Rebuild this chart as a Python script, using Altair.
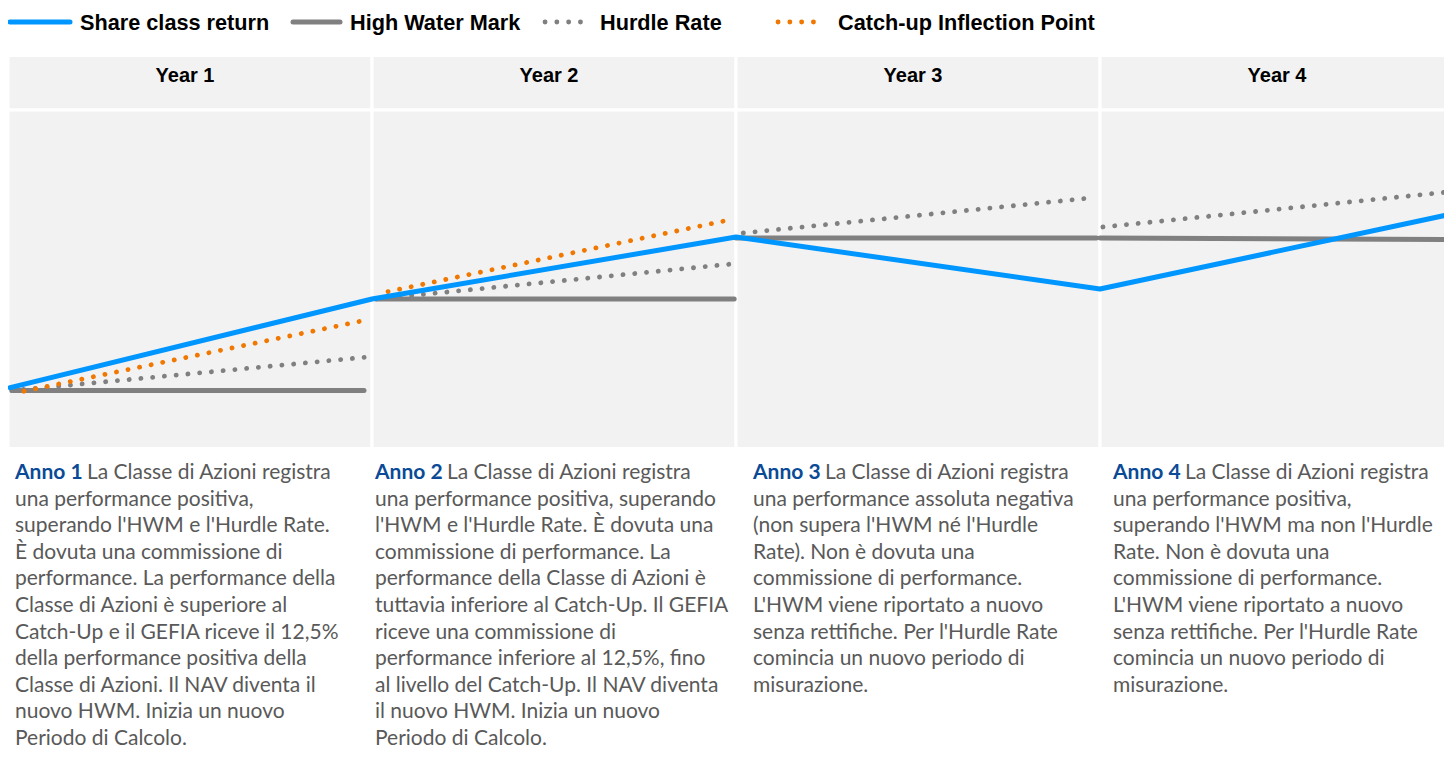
import altair as alt
import pandas as pd

# ---------------- data ----------------
years = ["Year 1", "Year 2", "Year 3", "Year 4"]
series_names = ["Share class return", "High Water Mark", "Hurdle Rate", "Catch-up Inflection Point"]
series_colors = ["#0096ff", "#808080", "#808080", "#f07800"]

# Share class return (NAV index), continuous across the four years
share_x = [0.006, 1.0, 2.0, 3.0, 4.0]
share_v = [99.9, 114.67, 125.0, 116.33, 129.27]

# High Water Mark, one flat segment per year
hwm_seg = [1, 1, 2, 2, 3, 3, 4, 4]
hwm_x = [0.012, 0.978, 1.012, 1.995, 2.0, 2.99, 3.0, 4.0]
hwm_v = [99.4, 99.4, 114.67, 114.67, 124.83, 124.83, 124.83, 124.58]

# Hurdle Rate, restarting every year
hurdle_seg = [1, 1, 2, 2, 3, 3, 4, 4]
hurdle_x = [0.01, 0.989, 1.012, 1.988, 2.02, 2.973, 3.008, 4.0]
hurdle_v = [99.4, 105.0, 114.67, 120.5, 125.67, 131.5, 126.67, 132.77]

# Catch-up inflection point (years 1 and 2 only)
catch_seg = [1, 1, 2, 2]
catch_x = [0.044, 0.985, 1.044, 1.970]
catch_v = [99.3, 111.17, 115.9, 127.7]

anno_labels = ["Anno 1", "Anno 2", "Anno 3", "Anno 4"]
first_rest = ["La Classe di Azioni registra"] * 4
panel_lines = [
    ["una performance positiva,",
     "superando l'HWM e l'Hurdle Rate.",
     "È dovuta una commissione di",
     "performance. La performance della",
     "Classe di Azioni è superiore al",
     "Catch-Up e il GEFIA riceve il 12,5%",
     "della performance positiva della",
     "Classe di Azioni. Il NAV diventa il",
     "nuovo HWM. Inizia un nuovo",
     "Periodo di Calcolo."],
    ["una performance positiva, superando",
     "l'HWM e l'Hurdle Rate. È dovuta una",
     "commissione di performance. La",
     "performance della Classe di Azioni è",
     "tuttavia inferiore al Catch-Up. Il GEFIA",
     "riceve una commissione di",
     "performance inferiore al 12,5%, fino",
     "al livello del Catch-Up. Il NAV diventa",
     "il nuovo HWM. Inizia un nuovo",
     "Periodo di Calcolo."],
    ["una performance assoluta negativa",
     "(non supera l'HWM né l'Hurdle",
     "Rate). Non è dovuta una",
     "commissione di performance.",
     "L'HWM viene riportato a nuovo",
     "senza rettifiche. Per l'Hurdle Rate",
     "comincia un nuovo periodo di",
     "misurazione."],
    ["una performance positiva,",
     "superando l'HWM ma non l'Hurdle",
     "Rate. Non è dovuta una",
     "commissione di performance.",
     "L'HWM viene riportato a nuovo",
     "senza rettifiche. Per l'Hurdle Rate",
     "comincia un nuovo periodo di",
     "misurazione."],
]

# ---------------- styling ----------------
W, H = 1436, 742
BG = "#f2f2f2"
TEXT_GRAY = "#595959"
ANNO_BLUE = "#0b4a96"
BODY_FONT = "Lato"
BODY_SIZE = 21
HEAD_FONT = "Liberation Sans"

xs = alt.Scale(domain=[0, 4], range=[0, 1456])
ys = alt.Scale(domain=[90, 146], range=[439, 103])
ls = alt.Scale(domain=[0, 10], range=[465, 731])

panels = pd.DataFrame({"year": years, "start": [0, 1, 2, 3], "end": [1, 2, 3, 4],
                       "mid": [0.5, 1.5, 2.5, 3.5]})

header_bg = alt.Chart(panels).mark_rect(fill=BG, stroke="white", strokeWidth=3).encode(
    x=alt.X("start:Q", scale=xs, axis=None), x2="end:Q",
    y=alt.value(47.5), y2=alt.value(102))
plot_bg = alt.Chart(panels).mark_rect(fill=BG, stroke="white", strokeWidth=3).encode(
    x=alt.X("start:Q", scale=xs, axis=None), x2="end:Q",
    y=alt.value(102), y2=alt.value(440.5))
header_txt = alt.Chart(panels).mark_text(
    font=HEAD_FONT, fontWeight="bold", fontSize=20, color="#000000",
    baseline="middle", align="center", dx=-5).encode(
    x=alt.X("mid:Q", scale=xs, axis=None), y=alt.value(68), text="year:N")

share_df = pd.DataFrame({"x": share_x, "v": share_v, "seg": 1})
hwm_df = pd.DataFrame({"x": hwm_x, "v": hwm_v, "seg": hwm_seg})
hurdle_df = pd.DataFrame({"x": hurdle_x, "v": hurdle_v, "seg": hurdle_seg})
catch_df = pd.DataFrame({"x": catch_x, "v": catch_v, "seg": catch_seg})


def line_layer(df, color, width, dash=None):
    kw = dict(color=color, strokeWidth=width, strokeCap="round", strokeJoin="round")
    if dash:
        kw["strokeDash"] = dash
    return alt.Chart(df).mark_line(**kw).encode(
        x=alt.X("x:Q", scale=xs, axis=None),
        y=alt.Y("v:Q", scale=ys, axis=None),
        detail="seg:N", order="x:Q")


DOT = [0.1, 11.7]
hwm_l = line_layer(hwm_df, series_colors[1], 5)
hurdle_l = line_layer(hurdle_df, series_colors[2], 4.8, DOT)
catch_l = line_layer(catch_df, series_colors[3], 4.8, DOT)
share_l = line_layer(share_df, series_colors[0], 5)

# ---------------- legend ----------------
leg_line_x = [(2, 62), (285, 332), (537, 577), (770, 812)]
leg_text_x = [72, 342, 592, 830]
leg_dash = [None, None, DOT, DOT]
leg_width = [5, 5, 4.8, 4.8]
legend_layers = []
for i, name in enumerate(series_names):
    kw = dict(color=series_colors[i], strokeWidth=leg_width[i], strokeCap="round")
    if leg_dash[i]:
        kw["strokeDash"] = leg_dash[i]
    legend_layers.append(
        alt.Chart(pd.DataFrame({"s": [name]})).mark_rule(**kw).encode(
            x=alt.value(leg_line_x[i][0]), x2=alt.value(leg_line_x[i][1]), y=alt.value(14)))
    legend_layers.append(
        alt.Chart(pd.DataFrame({"s": [name]})).mark_text(
            font=HEAD_FONT, fontWeight="bold", fontSize=21.7, color="#000000",
            align="left", baseline="middle").encode(
            x=alt.value(leg_text_x[i]), y=alt.value(15), text="s:N"))

# ---------------- description text ----------------
text_dx = [7, 3, 17, 13]
anno_w = 72
text_layers = []
for k in range(4):
    anno_df = pd.DataFrame({"t": [anno_labels[k]], "line": [0]})
    rest_rows = [{"t": first_rest[k], "line": 0}]
    for j, s in enumerate(panel_lines[k]):
        rest_rows.append({"t": s, "line": j + 1})
    rest_df = pd.DataFrame(rest_rows)
    text_layers.append(
        alt.Chart(anno_df).mark_text(font=BODY_FONT, fontWeight="bold", fontSize=BODY_SIZE,
                                     color=ANNO_BLUE, align="left", baseline="middle",
                                     dx=text_dx[k]).encode(
            x=alt.datum(k, scale=xs), y=alt.Y("line:Q", scale=ls, axis=None), text="t:N"))
    text_layers.append(
        alt.Chart(rest_df[rest_df.line == 0]).mark_text(
            font=BODY_FONT, fontSize=BODY_SIZE, color=TEXT_GRAY, align="left",
            baseline="middle", dx=text_dx[k] + anno_w).encode(
            x=alt.datum(k, scale=xs), y=alt.Y("line:Q", scale=ls, axis=None), text="t:N"))
    text_layers.append(
        alt.Chart(rest_df[rest_df.line > 0]).mark_text(
            font=BODY_FONT, fontSize=BODY_SIZE, color=TEXT_GRAY, align="left",
            baseline="middle", dx=text_dx[k]).encode(
            x=alt.datum(k, scale=xs), y=alt.Y("line:Q", scale=ls, axis=None), text="t:N"))

chart = alt.layer(
    header_bg, plot_bg, header_txt,
    hwm_l, hurdle_l, catch_l, share_l,
    *legend_layers, *text_layers
).resolve_scale(y="independent").properties(
    width=W, height=H, padding=0,
    autosize=alt.AutoSizeParams(type="none"),
    background="white",
).configure_view(stroke=None)

chart.save("out.html", embed_options={"renderer": "svg", "actions": False})
